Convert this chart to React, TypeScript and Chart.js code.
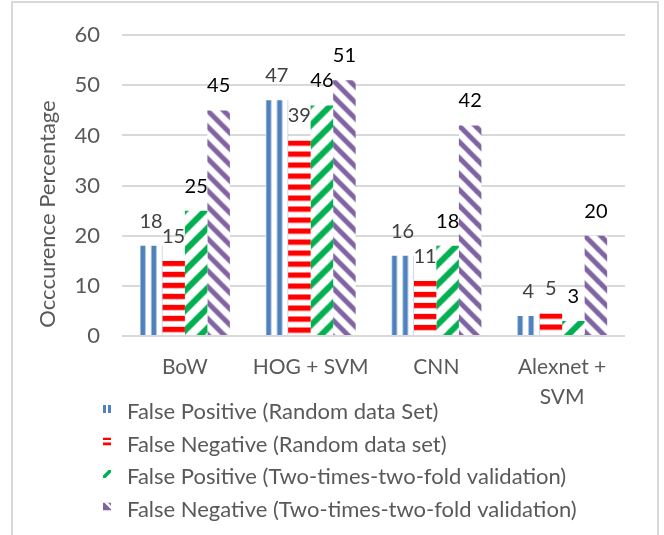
import React, { useEffect, useRef } from "react";
import { Chart, registerables } from "chart.js";

Chart.register(...registerables);

// ---------- data ----------
const categories: (string | string[])[] = ["BoW", "HOG + SVM", "CNN", ["Alexnet +", "SVM"]];
const seriesNames = [
  "False Positive (Random data Set)",
  "False Negative (Random data set)",
  "False Positive (Two-times-two-fold validation)",
  "False Negative (Two-times-two-fold validation)",
];
const fpRandom = [18, 47, 16, 4];
const fnRandom = [15, 39, 11, 4.5];
const fpTwoFold = [25, 46, 18, 3];
const fnTwoFold = [45, 51, 42, 20];
const yTicks = [0, 10, 20, 30, 40, 50, 60];
const yTitle = "Occcurence Percentage";

// ---------- styles ----------
const FONT = "Lato, 'Open Sans', sans-serif";
const TEXT = "#595959";
const GRID = "#D9D9D9";
const CAT_PCT = 0.716;
const solidColors = ["#4F81BD", "#FF0000", "#00B050", "#8064A2"];
const labelColors = ["#404040", "#404040", "#000000", "#000000"];

function makeTile(kind: number): HTMLCanvasElement {
  const c = document.createElement("canvas");
  const g = c.getContext("2d")!;
  if (kind === 0) {
    c.width = 11; c.height = 4;
    g.fillStyle = "#fff"; g.fillRect(0, 0, 11, 4);
    g.fillStyle = "#A6BFE0"; g.fillRect(0, 0, 1, 4); g.fillRect(5, 0, 1, 4);
    g.fillStyle = "#4F81BD"; g.fillRect(1, 0, 4, 4);
  } else if (kind === 1) {
    c.width = 4; c.height = 11;
    g.fillStyle = "#fff"; g.fillRect(0, 0, 4, 11);
    g.fillStyle = "#FF0000"; g.fillRect(0, 0, 4, 5);
    g.fillStyle = "#FFB0B0"; g.fillRect(0, 5, 4, 1);
  } else if (kind === 2) {
    const s = 20;
    c.width = s; c.height = s;
    g.fillStyle = "#fff"; g.fillRect(0, 0, s, s);
    g.strokeStyle = "#00B050"; g.lineWidth = 6;
    for (let k = -1; k <= 1; k++) {
      g.beginPath(); g.moveTo(k * s - 2, s + 2); g.lineTo(k * s + s + 2, -2); g.stroke();
    }
  } else {
    const s = 16;
    c.width = s; c.height = s;
    g.fillStyle = "#fff"; g.fillRect(0, 0, s, s);
    g.strokeStyle = "#8064A2"; g.lineWidth = 5;
    for (let k = -1; k <= 1; k++) {
      g.beginPath(); g.moveTo(k * s - 2, -2); g.lineTo(k * s + s + 2, s + 2); g.stroke();
    }
  }
  return c;
}

let tiles: HTMLCanvasElement[] | null = null;
function getTiles() {
  if (!tiles) tiles = [0, 1, 2, 3].map(makeTile);
  return tiles;
}

function patternAt(g: CanvasRenderingContext2D, kind: number, x: number, y: number) {
  const p = g.createPattern(getTiles()[kind], "repeat")!;
  p.setTransform(new DOMMatrix([1, 0, 0, 1, x, y]));
  return p;
}

function barFill(dsIndex: number) {
  return (ctx: any) => {
    const chart = ctx.chart;
    const xs = chart.scales?.x;
    const ys = chart.scales?.y;
    if (ctx.type !== "data" || !xs || !ys) return solidColors[dsIndex];
    const n = chart.data.labels.length;
    const center = xs.getPixelForValue(ctx.dataIndex);
    const catW = (xs.right - xs.left) / n;
    const groupW = catW * CAT_PCT;
    const barW = groupW / 4;
    const left = center - groupW / 2 + dsIndex * barW;
    const top = ys.getPixelForValue(ctx.raw);
    return patternAt(chart.ctx, dsIndex, left, top);
  };
}

function drawIcon(g: CanvasRenderingContext2D, kind: number, x: number, y: number) {
  const s = 8;
  g.save();
  g.beginPath();
  g.rect(x, y, s, s);
  g.clip();
  g.fillStyle = "#fff";
  g.fillRect(x, y, s, s);
  if (kind === 0) {
    g.fillStyle = "#4F81BD";
    g.fillRect(x, y, 3, s);
    g.fillRect(x + 5, y, 3, s);
  } else if (kind === 1) {
    g.fillStyle = "#FF0000";
    g.fillRect(x, y, s, 2.5);
    g.fillRect(x, y + 5, s, 3);
  } else if (kind === 2) {
    g.strokeStyle = "#00B050";
    g.lineWidth = 3.5;
    g.beginPath(); g.moveTo(x - 1, y + s + 1); g.lineTo(x + s + 1, y - 1); g.stroke();
  } else {
    g.fillStyle = "#8064A2";
    g.fillRect(x, y, s, s);
    g.strokeStyle = "#fff";
    g.lineWidth = 2.5;
    g.beginPath(); g.moveTo(x + 1, y - 2); g.lineTo(x + s + 2, y + s - 1); g.stroke();
  }
  g.restore();
}

const decorPlugin = {
  id: "decor",
  beforeDraw(chart: any) {
    const g = chart.ctx as CanvasRenderingContext2D;
    g.save();
    g.fillStyle = "#fff";
    g.fillRect(0, 0, chart.width, chart.height);
    g.strokeStyle = GRID;
    g.lineWidth = 2;
    g.strokeRect(12, 2, 646, 620);
    g.restore();
  },
  afterDatasetsDraw(chart: any) {
    const g = chart.ctx as CanvasRenderingContext2D;
    g.save();
    g.font = `20px ${FONT}`;
    g.textAlign = "center";
    g.textBaseline = "alphabetic";
    chart.data.datasets.forEach((ds: any, di: number) => {
      const meta = chart.getDatasetMeta(di);
      meta.data.forEach((el: any, i: number) => {
        g.fillStyle = labelColors[di];
        g.fillText(String(Math.round(ds.data[i])), el.x, el.y - 18);
      });
    });
    g.restore();
  },
  afterDraw(chart: any) {
    const g = chart.ctx as CanvasRenderingContext2D;
    g.save();
    // y-axis title
    g.translate(55, 214);
    g.rotate(-Math.PI / 2);
    g.font = `22px ${FONT}`;
    g.fillStyle = TEXT;
    g.textAlign = "center";
    g.textBaseline = "alphabetic";
    g.fillText(yTitle, 0, 0);
    g.restore();

    // legend
    g.save();
    g.font = `22px ${FONT}`;
    g.textAlign = "left";
    g.textBaseline = "alphabetic";
    chart.data.datasets.forEach((ds: any, di: number) => {
      const base = 419 + di * 32.5;
      drawIcon(g, di, 103, base - 14);
      g.fillStyle = TEXT;
      g.fillText(ds.label, 127, base);
    });
    g.restore();
  },
};

export default function App() {
  const ref = useRef<HTMLCanvasElement | null>(null);
  useEffect(() => {
    if (!ref.current) return;
    const series = [fpRandom, fnRandom, fpTwoFold, fnTwoFold];
    const chart = new Chart(ref.current, {
      type: "bar",
      data: {
        labels: categories as any,
        datasets: series.map((d, i) => ({
          label: seriesNames[i],
          data: d,
          backgroundColor: barFill(i) as any,
          borderWidth: 0,
          categoryPercentage: CAT_PCT,
          barPercentage: 1,
        })),
      },
      options: {
        responsive: false,
        animation: false,
        layout: { padding: { left: 12, right: 39, top: 35, bottom: 119 } },
        plugins: { legend: { display: false }, tooltip: { enabled: false } },
        scales: {
          x: {
            grid: { display: false },
            border: { display: false },
            ticks: {
              color: TEXT,
              font: { family: FONT, size: 21, lineHeight: 1.43 },
              padding: 8,
              maxRotation: 0,
              autoSkip: false,
            },
            afterFit: (s: any) => { s.height = 80; },
          },
          y: {
            min: 0,
            max: 60,
            afterBuildTicks: (s: any) => { s.ticks = yTicks.map((v) => ({ value: v })); },
            ticks: { color: TEXT, font: { family: FONT, size: 22 }, padding: 22 },
            grid: { color: GRID, lineWidth: 2, drawTicks: false },
            border: { display: false },
            afterFit: (s: any) => { s.width = 110; },
          },
        },
      },
      plugins: [decorPlugin],
    });
    return () => chart.destroy();
  }, []);
  return (
    <div style={{ position: "absolute", left: 0, top: 0, width: 664, height: 535 }}>
      <canvas ref={ref} width={664} height={535} style={{ display: "block" }} />
    </div>
  );
}
